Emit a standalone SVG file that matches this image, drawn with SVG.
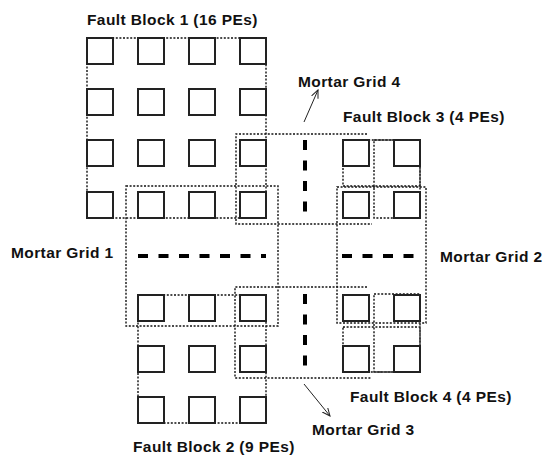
<svg xmlns="http://www.w3.org/2000/svg" width="543" height="455" viewBox="0 0 543 455">
<defs>
<style>
.pe{fill:#fff;stroke:#222;stroke-width:2}
.dot{fill:none;stroke:#111;stroke-width:1.4;stroke-dasharray:2 1.6}
.dash{fill:none;stroke:#000;stroke-width:4;stroke-dasharray:10 10.5}
.lbl{font-family:"Liberation Sans",Arial,sans-serif;font-weight:bold;font-size:15.5px;fill:#111;letter-spacing:0.4px}
.arr{fill:none;stroke:#222;stroke-width:1}
</style>
<marker id="ah" markerUnits="userSpaceOnUse" markerWidth="10" markerHeight="8" refX="8" refY="4" orient="auto">
<path d="M0,0.5 L8,4 L0,7.5" fill="none" stroke="#222" stroke-width="1"/>
</marker>
</defs>
<rect width="543" height="455" fill="#fff"/>

<g id="mortar-grid-1">
<rect class="dot" x="126" y="186" width="152" height="140"/>
<line class="dash" x1="138" y1="256" x2="266" y2="256"/>
<text class="lbl" x="11" y="258">Mortar Grid 1</text>
</g>
<g id="mortar-grid-2">
<rect class="dot" x="337" y="187" width="89" height="136"/>
<line class="dash" x1="342" y1="256" x2="415" y2="256"/>
<text class="lbl" x="440" y="262">Mortar Grid 2</text>
</g>
<g id="mortar-grid-4">
<path class="dot" d="M367,134 H236 V224 H372"/>
<line class="dash" x1="305" y1="140" x2="305" y2="213"/>
<text class="lbl" x="298" y="87">Mortar Grid 4</text>
</g>
<g id="mortar-grid-3">
<path class="dot" d="M367,287 H235 V378 H372"/>
<line class="dash" x1="305" y1="294" x2="305" y2="367"/>
<text class="lbl" x="312" y="435">Mortar Grid 3</text>
</g>

<g id="fault-block-1">
<rect class="dot" x="87" y="38" width="179" height="180"/>
<rect class="pe" x="87" y="38" width="26" height="26"/><rect class="pe" x="138" y="38" width="26" height="26"/><rect class="pe" x="189" y="38" width="26" height="26"/><rect class="pe" x="240" y="38" width="26" height="26"/>
<rect class="pe" x="87" y="89" width="26" height="26"/><rect class="pe" x="138" y="89" width="26" height="26"/><rect class="pe" x="189" y="89" width="26" height="26"/><rect class="pe" x="240" y="89" width="26" height="26"/>
<rect class="pe" x="87" y="140" width="26" height="26"/><rect class="pe" x="138" y="140" width="26" height="26"/><rect class="pe" x="189" y="140" width="26" height="26"/><rect class="pe" x="240" y="140" width="26" height="26"/>
<rect class="pe" x="87" y="192" width="26" height="26"/><rect class="pe" x="138" y="192" width="26" height="26"/><rect class="pe" x="189" y="192" width="26" height="26"/><rect class="pe" x="240" y="192" width="26" height="26"/>
<text class="lbl" x="87" y="25">Fault Block 1 (16 PEs)</text>
</g>

<g id="fault-block-2">
<rect class="dot" x="138" y="295" width="128" height="128"/>
<rect class="pe" x="138" y="295" width="26" height="26"/><rect class="pe" x="189" y="295" width="26" height="26"/><rect class="pe" x="240" y="295" width="26" height="26"/>
<rect class="pe" x="138" y="346" width="26" height="26"/><rect class="pe" x="189" y="346" width="26" height="26"/><rect class="pe" x="240" y="346" width="26" height="26"/>
<rect class="pe" x="138" y="397" width="26" height="26"/><rect class="pe" x="189" y="397" width="26" height="26"/><rect class="pe" x="240" y="397" width="26" height="26"/>
<text class="lbl" x="133" y="452">Fault Block 2 (9 PEs)</text>
</g>

<g id="fault-block-3">
<rect class="dot" x="343" y="140" width="77" height="46"/>
<rect class="dot" x="374" y="140" width="46" height="78"/>
<rect class="pe" x="343" y="140" width="26" height="26"/><rect class="pe" x="394" y="140" width="26" height="26"/>
<rect class="pe" x="343" y="192" width="26" height="26"/><rect class="pe" x="394" y="192" width="26" height="26"/>
<text class="lbl" x="343" y="122">Fault Block 3 (4 PEs)</text>
</g>

<g id="fault-block-4">
<rect class="dot" x="343" y="327" width="77" height="45"/>
<rect class="dot" x="374" y="294" width="46" height="78"/>
<rect class="pe" x="343" y="295" width="26" height="26"/><rect class="pe" x="394" y="295" width="26" height="26"/>
<rect class="pe" x="343" y="346" width="26" height="26"/><rect class="pe" x="394" y="346" width="26" height="26"/>
<text class="lbl" x="350" y="402">Fault Block 4 (4 PEs)</text>
</g>

<g id="connectors">
<line class="arr" x1="304" y1="122" x2="318" y2="90" marker-end="url(#ah)"/>
<line class="arr" x1="304" y1="384" x2="330" y2="416" marker-end="url(#ah)"/>
</g>
</svg>
